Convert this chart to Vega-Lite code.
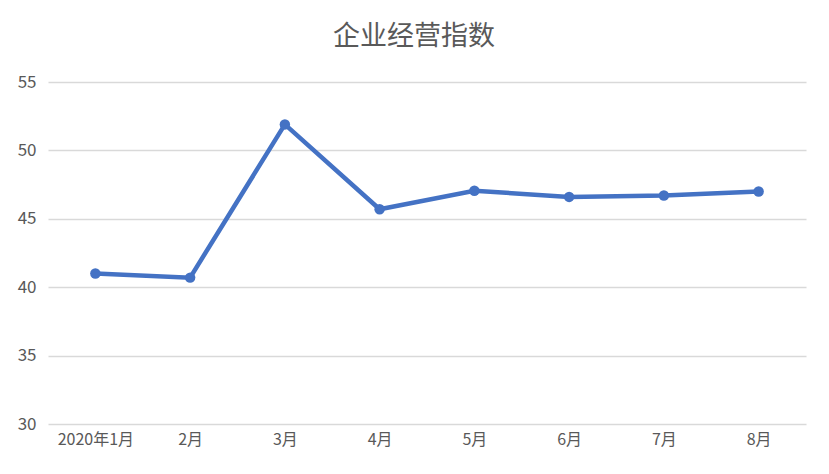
{
  "$schema": "https://vega.github.io/schema/vega-lite/v6.json",
  "autosize": {"type": "none"},
  "width": 758,
  "height": 342,
  "padding": {"left": 48, "top": 82, "right": 23, "bottom": 50},
  "background": "white",
  "title": {
    "text": "企业经营指数",
    "fontSize": 27,
    "font": "Noto Sans CJK SC",
    "fontWeight": "normal",
    "color": "#595959",
    "anchor": "middle",
    "dx": -13,
    "offset": 22
  },
  "data": {
    "values": [
      {"month": "2020年1月", "value": 41.0},
      {"month": "2月", "value": 40.7},
      {"month": "3月", "value": 51.9},
      {"month": "4月", "value": 45.7},
      {"month": "5月", "value": 47.05},
      {"month": "6月", "value": 46.6},
      {"month": "7月", "value": 46.7},
      {"month": "8月", "value": 47.0}
    ]
  },
  "encoding": {
    "x": {
      "field": "month",
      "type": "ordinal",
      "sort": null,
      "scale": {"type": "point", "padding": 0.5},
      "axis": {
        "title": null,
        "labelAngle": 0,
        "ticks": false,
        "domain": false,
        "grid": false,
        "labelFont": "Noto Sans CJK SC",
        "labelFontSize": 16,
        "labelColor": "#595959",
        "labelPadding": 7
      }
    },
    "y": {
      "field": "value",
      "type": "quantitative",
      "scale": {"domain": [30, 55], "nice": false, "zero": false},
      "axis": {
        "title": null,
        "values": [30, 35, 40, 45, 50, 55],
        "ticks": false,
        "domain": false,
        "grid": true,
        "gridColor": "#d9d9d9",
        "gridWidth": 1.5,
        "labelFont": "Noto Sans CJK SC",
        "labelFontSize": 17,
        "labelColor": "#595959",
        "labelPadding": 12
      }
    }
  },
  "layer": [
    {"mark": {"type": "line", "color": "#4472C4", "strokeWidth": 4.5}},
    {"mark": {"type": "point", "filled": true, "color": "#4472C4", "size": 110, "opacity": 1}}
  ],
  "config": {"view": {"stroke": null}}
}
